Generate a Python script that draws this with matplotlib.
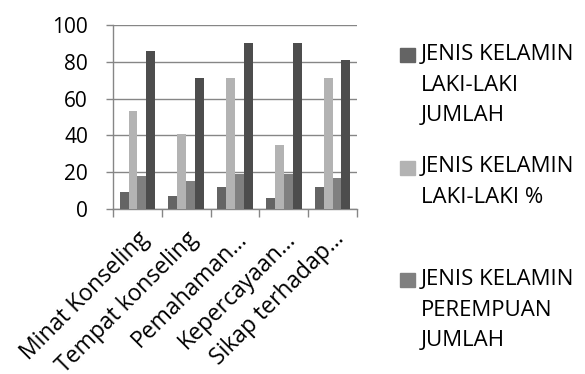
import matplotlib
matplotlib.use("Agg")
import matplotlib.pyplot as plt
import numpy as np
from matplotlib.patches import Rectangle

plt.rcParams['font.family'] = ['Open Sans', 'DejaVu Sans']

categories = ["Minat Konseling", "Tempat konseling", "Pemahaman...",
              "Kepercayaan...", "Sikap terhadap..."]
series_names = ["JENIS KELAMIN\nLAKI-LAKI\nJUMLAH",
                "JENIS KELAMIN\nLAKI-LAKI %",
                "JENIS KELAMIN\nPEREMPUAN\nJUMLAH",
                "JENIS KELAMIN\nPEREMPUAN %"]
laki_jumlah = [9, 7, 12, 6, 12]
laki_persen = [53, 41, 71, 35, 71]
perempuan_jumlah = [18, 15, 19, 19, 17]
perempuan_persen = [86, 71, 90, 90, 81]
series_values = [laki_jumlah, laki_persen, perempuan_jumlah, perempuan_persen]
colors = ["#646464", "#b3b3b3", "#808080", "#4d4d4d"]
yticks = [0, 20, 40, 60, 80, 100]

W, H = 585, 374
fig = plt.figure(figsize=(W / 100, H / 100), dpi=100)
ax = fig.add_axes([113 / W, 1 - 209 / H, (357 - 113) / W, (209 - 25) / H])

n = len(series_values)
bw = 1 / 5.5
x = np.arange(len(categories))
for i, (vals, c) in enumerate(zip(series_values, colors)):
    ax.bar(x + (i - (n - 1) / 2) * bw, vals, width=bw, color=c, zorder=3)

ax.set_xlim(-0.5, len(categories) - 0.5)
ax.set_ylim(0, 100)
ax.set_yticks(yticks)
ax.set_yticklabels([str(v) for v in yticks], fontsize=15, color="black")
ax.yaxis.grid(True, color="#868686", linewidth=1.0, zorder=0)

ax.set_xticks(np.arange(len(categories) + 1) - 0.5)
ax.set_xticklabels([])
ax.set_xticks(x, minor=True)
ax.set_xticklabels(categories, minor=True, rotation=45, ha="right",
                   rotation_mode="anchor", fontsize=16.5, color="black")
ax.tick_params(axis="x", which="minor", length=0, pad=13)
ax.tick_params(axis="x", which="major", length=6, color="#868686", width=1)
ax.tick_params(axis="y", length=5, color="#868686", width=1, pad=13)

for s in ["top", "right"]:
    ax.spines[s].set_visible(False)
for s in ["left", "bottom"]:
    ax.spines[s].set_color("#868686")
    ax.spines[s].set_linewidth(1.0)

# legend drawn at fixed slots on the right; slots below the canvas are skipped
for i, (name, c) in enumerate(zip(series_names, colors)):
    top = 47 + i * 112.5
    if top > H - 20:
        continue
    fig.patches.append(Rectangle((400 / W, 1 - (top + 15) / H), 15 / W, 14 / H,
                                 transform=fig.transFigure, color=c))
    fig.text(421 / W, 1 - (top - 3) / H, name, fontsize=16, va="top",
             ha="left", linespacing=1.6, color="black")

fig.savefig("out.png", dpi=100)
